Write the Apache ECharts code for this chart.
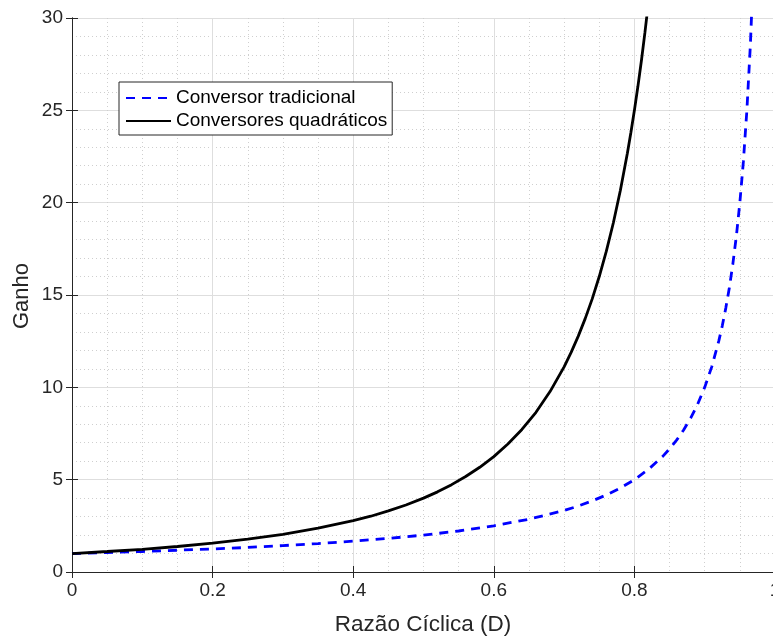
<!DOCTYPE html>
<html>
<head>
<meta charset="utf-8">
<script src="https://cdn.jsdelivr.net/npm/echarts@6/dist/echarts.min.js"></script>
<style>
  html, body { margin: 0; padding: 0; background: #fff; }
  #chart { width: 773px; height: 639px; }
</style>
</head>
<body>
<div id="chart"></div>
<script>
// Conversor tradicional
var dTrad = [0, 0.05, 0.1, 0.15, 0.2, 0.25, 0.3, 0.35, 0.4, 0.45, 0.5, 0.55, 0.6, 0.65, 0.7, 0.72, 0.74, 0.76, 0.78, 0.8, 0.82, 0.84, 0.85, 0.86, 0.87, 0.88, 0.89, 0.9, 0.91, 0.92, 0.925, 0.93, 0.935, 0.94, 0.945, 0.95, 0.955, 0.96, 0.965, 0.97];
var gTrad = [1, 1.05, 1.11, 1.18, 1.25, 1.33, 1.43, 1.54, 1.67, 1.82, 2, 2.22, 2.5, 2.86, 3.33, 3.57, 3.85, 4.17, 4.55, 5, 5.56, 6.25, 6.67, 7.14, 7.69, 8.33, 9.09, 10, 11.11, 12.5, 13.33, 14.29, 15.38, 16.67, 18.18, 20, 22.22, 25, 28.57, 33.33];

// Conversores quadráticos
var dQuad = [0, 0.05, 0.1, 0.15, 0.2, 0.25, 0.3, 0.35, 0.4, 0.425, 0.45, 0.475, 0.5, 0.52, 0.54, 0.56, 0.58, 0.6, 0.62, 0.64, 0.66, 0.68, 0.7, 0.71, 0.72, 0.73, 0.74, 0.75, 0.76, 0.77, 0.78, 0.79, 0.795, 0.8, 0.805, 0.81, 0.815, 0.82];
var gQuad = [1, 1.11, 1.23, 1.38, 1.56, 1.78, 2.04, 2.37, 2.78, 3.02, 3.31, 3.63, 4, 4.34, 4.73, 5.17, 5.67, 6.25, 6.93, 7.72, 8.65, 9.77, 11.11, 11.89, 12.76, 13.72, 14.79, 16, 17.36, 18.9, 20.66, 22.68, 23.8, 25, 26.3, 27.7, 29.22, 30.86];

function pairs(xs, ys) {
  return xs.map(function (x, i) { return [x, ys[i]]; });
}

var axisColor = "#262626";
var font = "Liberation Sans, Arial, Helvetica, sans-serif";

var dom = echarts.init(document.getElementById("chart"));
dom.setOption({
  animation: false,
  backgroundColor: "#fff",
  grid: { left: 72, right: -2, top: 18, bottom: 67, outerBoundsMode: "none", containLabel: false },
  legend: {
    left: 119,
    top: 82,
    orient: "vertical",
    backgroundColor: "#fff",
    borderColor: axisColor,
    borderWidth: 1,
    borderRadius: 0,
    padding: [6, 5, 4, 6],
    itemGap: 3,
    itemWidth: 45,
    itemHeight: 20,
    itemTextGap: 3,
    itemStyle: { opacity: 0 },
    textStyle: { fontFamily: font, fontSize: 19, color: "#000", lineHeight: 20 },
    data: ["Conversor tradicional", "Conversores quadráticos"]
  },
  xAxis: [{
    type: "value",
    min: 0,
    max: 1,
    interval: 0.2,
    axisLine: { onZero: false, lineStyle: { color: axisColor, width: 1 } },
    axisTick: { inside: true, length: 6, lineStyle: { color: axisColor } },
    axisLabel: { fontFamily: font, fontSize: 19, color: "#262626", margin: 9 },
    splitLine: { show: true, lineStyle: { color: "#dedede", width: 1 } },
    minorTick: { show: false, splitNumber: 4 },
    minorSplitLine: { show: true, lineStyle: { color: "#cfcfcf", type: [1, 3], width: 1 } }
  }, {
    type: "value",
    position: "top",
    min: 0,
    max: 1,
    interval: 0.2,
    axisLine: { show: true, lineStyle: { color: axisColor, width: 1 } },
    axisTick: { inside: true, length: 6, lineStyle: { color: axisColor } },
    axisLabel: { show: false },
    splitLine: { show: false }
  }],
  yAxis: [{
    type: "value",
    min: 0,
    max: 30,
    interval: 5,
    axisLine: { show: true, onZero: false, lineStyle: { color: axisColor, width: 1 } },
    axisTick: { show: true, inside: true, length: 6, lineStyle: { color: axisColor } },
    axisLabel: { fontFamily: font, fontSize: 19, color: "#262626", margin: 9 },
    splitLine: { show: true, lineStyle: { color: "#dedede", width: 1 } },
    minorTick: { show: false, splitNumber: 5 },
    minorSplitLine: { show: true, lineStyle: { color: "#cfcfcf", type: [1, 3], width: 1 } }
  }, {
    type: "value",
    position: "right",
    min: 0,
    max: 30,
    interval: 5,
    axisLine: { show: true, lineStyle: { color: axisColor, width: 1 } },
    axisTick: { show: true, inside: true, length: 6, lineStyle: { color: axisColor } },
    axisLabel: { show: false },
    splitLine: { show: false }
  }],
  graphic: [{
    type: "text",
    x: 423,
    y: 613,
    style: { text: "Razão Cíclica (D)", font: "22.5px " + font, fill: "#262626", align: "center" }
  }, {
    type: "text",
    left: 11,
    top: 263,
    rotation: Math.PI / 2,
    style: { text: "Ganho", font: "22px " + font, fill: "#262626" }
  }],
  series: [{
    name: "Conversor tradicional",
    type: "line",
    symbol: "none",
    clip: true,
    lineStyle: { color: "#0000ff", width: 2.8, type: [9, 7] },
    itemStyle: { color: "#0000ff" },
    data: pairs(dTrad, gTrad)
  }, {
    name: "Conversores quadráticos",
    type: "line",
    symbol: "none",
    clip: true,
    lineStyle: { color: "#000", width: 2.8 },
    itemStyle: { color: "#000" },
    data: pairs(dQuad, gQuad)
  }]
});
dom.resize();
</script>
</body>
</html>
